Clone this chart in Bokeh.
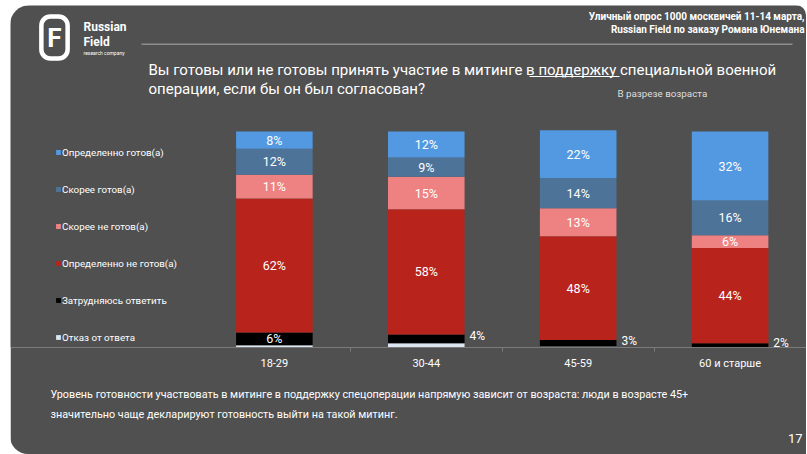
from bokeh.plotting import figure
from bokeh.models import (ColumnDataSource, Range1d, LinearAxis, FixedTicker, Legend,
                          LegendItem, LabelSet, Label, BoxAnnotation, Title)
from bokeh.core.properties import value
from bokeh.embed import file_html
from bokeh.resources import INLINE

# ---------------- data ----------------
categories = ["18-29", "30-44", "45-59", "60 и старше"]
series = ["Отказ от ответа", "Затрудняюсь ответить", "Определенно не готов(а)",
          "Скорее не готов(а)", "Скорее готов(а)", "Определенно готов(а)"]
refusal = [1, 2, 0.5, 0]
hard_to_say = [6, 4, 3, 2]
def_not = [62, 58, 48, 44]
rather_not = [11, 15, 13, 6]
rather_yes = [12, 9, 14, 16]
def_yes = [8, 12, 22, 32]
values = [refusal, hard_to_say, def_not, rather_not, rather_yes, def_yes]
colors = ["#dce6f1", "#000000", "#b8241c", "#ee8282", "#4e7398", "#5299e1"]

BG = "#505050"
FONT = "Roboto"
WHITE = "#ffffff"

p = figure(width=796, height=449, output_backend="svg", toolbar_location=None,
           x_range=Range1d(-1.737, 3.503), y_range=Range1d(0, 158.3),
           min_border_left=0, min_border_right=0, min_border_top=0, min_border_bottom=107,
           x_axis_type=None, y_axis_type=None,
           background_fill_color=BG, border_fill_color=BG, outline_line_color=None)
p.styles = {"margin-left": "10px", "margin-top": "5px",
            "border-radius": "20px 10px 0 18px", "overflow": "hidden"}

xs = list(range(len(categories)))
bottoms = [0.0] * len(categories)
renderers = []
inside = dict(x=[], y=[], text=[])
outside = dict(x=[], y=[], text=[])
for si, (name, vals, col) in enumerate(zip(series, values, colors)):
    tops = [b + v for b, v in zip(bottoms, vals)]
    src = ColumnDataSource(dict(x=xs, bottom=list(bottoms), top=tops))
    r = p.vbar(x="x", bottom="bottom", top="top", width=0.504, source=src,
               fill_color=col, line_color=None)
    renderers.append(r)
    if si > 0:
        for i, v in enumerate(vals):
            if v <= 0:
                continue
            mid = bottoms[i] + v / 2
            if v >= 5:
                inside["x"].append(i); inside["y"].append(mid); inside["text"].append(f"{v}%")
            else:
                outside["x"].append(i + 0.252); outside["y"].append(mid); outside["text"].append(f"{v}%")
    bottoms = tops

p.add_layout(LabelSet(x="x", y="y", text="text", source=ColumnDataSource(inside),
                      text_align="center", text_baseline="middle", text_color=WHITE,
                      text_font=value(FONT), text_font_size=value("12.5px")))
p.add_layout(LabelSet(x="x", y="y", text="text", source=ColumnDataSource(outside),
                      text_align="left", text_baseline="middle", text_color=WHITE,
                      x_offset=5, y_offset=2.5, text_font=value(FONT),
                      text_font_size=value("12px")))

# x axis
xaxis = LinearAxis(bounds=(-0.5, 3.5),
                   ticker=FixedTicker(ticks=xs, minor_ticks=[0.5, 1.5, 2.5]),
                   major_label_overrides={i: c for i, c in enumerate(categories)})
xaxis.axis_line_color = "#7a7a7a"
xaxis.axis_line_width = 1
xaxis.major_tick_line_color = None
xaxis.major_tick_out = 0
xaxis.major_tick_in = 0
xaxis.minor_tick_line_color = "#7a7a7a"
xaxis.minor_tick_out = 4
xaxis.minor_tick_in = 0
xaxis.major_label_text_color = WHITE
xaxis.major_label_text_font = FONT
xaxis.major_label_text_font_size = "11px"
xaxis.major_label_standoff = 5
p.add_layout(xaxis, "below")

# legend
items = [LegendItem(label=n, renderers=[r]) for n, r in zip(series, renderers)][::-1]
legend = Legend(items=items, location=(45, 4), orientation="vertical",
                glyph_width=6, glyph_height=6, label_height=12, spacing=25,
                label_standoff=1, padding=0, margin=0,
                background_fill_alpha=0, border_line_color=None,
                label_text_color=WHITE, label_text_font=FONT, label_text_font_size="9.8px")
p.add_layout(legend)

# ---------------- texts ----------------
def lab(text, X, Y, size, align="left", color=WHITE, style="normal", **kw):
    p.add_layout(Label(text=text, x=X - 10, y=347 - Y, x_units="screen", y_units="screen",
                       text_align=align, text_baseline="middle", text_color=color,
                       text_font=FONT, text_font_size=size, text_font_style=style, **kw))

# logo
lab("F", 54, 37, "26px", align="center", style="bold",
    border_line_color=WHITE, border_line_width=4.5, border_radius=9, padding=6)
lab("Russian", 83, 26, "12px", style="bold")
lab("Field", 83, 41, "12px", style="bold")
lab("research company", 83, 52, "5px")

# header line
p.add_layout(BoxAnnotation(left=131, right=782, bottom=302.5, top=304,
                           left_units="screen", right_units="screen",
                           bottom_units="screen", top_units="screen",
                           fill_color="#8c8c8c", fill_alpha=1, line_color=None))

lab("Уличный опрос 1000 москвичей 11-14 марта,", 804, 16, "10px", align="right", style="bold")
lab("Russian Field по заказу Романа Юнемана", 804, 28.5, "10px", align="right", style="bold")

lab("Вы готовы или не готовы принять участие в митинге в поддержку специальной военной",
    148, 69, "15px")
lab("операции, если бы он был согласован?", 148, 88, "15px")
p.add_layout(BoxAnnotation(left=519, right=609, bottom=270.5, top=271.5,
                           left_units="screen", right_units="screen",
                           bottom_units="screen", top_units="screen",
                           fill_color=WHITE, fill_alpha=1, line_color=None))
lab("В разрезе возраста", 617, 93, "9.8px", color="#dddddd")

# bottom texts (titles in the lower panel)
t1 = Title(text="Уровень готовности участвовать в митинге в поддержку спецоперации напрямую зависит от возраста: люди в возрасте 45+\n"
                "значительно чаще декларируют готовность выйти на такой митинг.",
           align="left", offset=40, standoff=28, text_font=FONT, text_font_size="10.8px",
           text_font_style="normal", text_color=WHITE, text_line_height=1.55)
t3 = Title(text="17", align="right", offset=4, standoff=-7, text_font=FONT,
           text_font_size="13px", text_font_style="normal", text_color=WHITE)
p.add_layout(t1, "below")
p.add_layout(t3, "below")

open("out.html", "w").write(file_html(p, INLINE))
